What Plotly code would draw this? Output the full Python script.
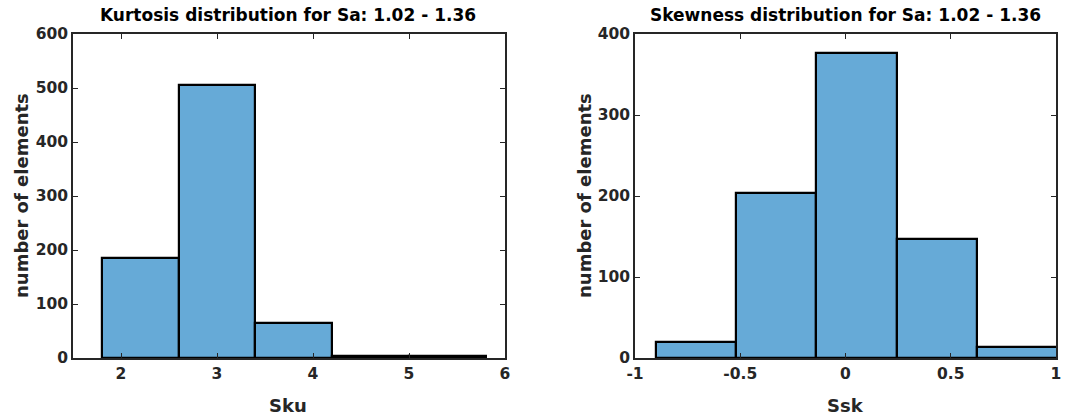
import plotly.graph_objects as go

# Kurtosis histogram
sku_edges = [1.8, 2.6, 3.4, 4.2, 5.0, 5.8]
sku_counts = [185, 505, 64, 3, 3]
# Skewness histogram
ssk_edges = [-0.902, -0.52, -0.138, 0.244, 0.626, 1.008]
ssk_counts = [20, 204, 377, 147, 13]

sku_ticks = [2, 3, 4, 5, 6]
sku_yticks = [0, 100, 200, 300, 400, 500, 600]
ssk_ticks = [-1, -0.5, 0, 0.5, 1]
ssk_tick_labels = ["-1", "-0.5", "0", "0.5", "1"]
ssk_yticks = [0, 100, 200, 300, 400]

BAR = "rgb(102,170,215)"
AX = "#262626"
FONT = "DejaVu Sans"

W, H = 1075, 420


def centers(e):
    return [(e[i] + e[i + 1]) / 2 for i in range(len(e) - 1)]


def widths(e):
    return [e[i + 1] - e[i] for i in range(len(e) - 1)]


fig = go.Figure()
fig.add_trace(go.Bar(x=centers(sku_edges), y=sku_counts, width=widths(sku_edges),
                     marker=dict(color=BAR, line=dict(color="black", width=2.2)),
                     xaxis="x", yaxis="y", showlegend=False))
fig.add_trace(go.Bar(x=centers(ssk_edges), y=ssk_counts, width=widths(ssk_edges),
                     marker=dict(color=BAR, line=dict(color="black", width=2.2)),
                     xaxis="x2", yaxis="y2", showlegend=False))

ydom = [(H - 358) / H, (H - 34) / H]
axcommon = dict(showline=True, mirror="allticks", linecolor=AX, linewidth=1.8,
                ticks="inside", ticklen=5, tickwidth=1.3, tickcolor=AX,
                showgrid=False, zeroline=False, automargin=False,
                tickfont=dict(family=FONT, size=15.5, color=AX, weight="bold"))
titlefont = dict(family=FONT, size=18, color=AX)

fig.update_layout(
    width=W, height=H,
    margin=dict(l=0, r=0, t=0, b=0),
    plot_bgcolor="white", paper_bgcolor="white",
    bargap=0,
    xaxis=dict(domain=[73 / W, 505 / W], range=[1.5, 6], tickvals=sku_ticks,
               anchor="y", **axcommon),
    yaxis=dict(domain=ydom, range=[0, 600], tickvals=sku_yticks, anchor="x",
               **axcommon),
    xaxis2=dict(domain=[635 / W, 1056 / W], range=[-1, 1], tickvals=ssk_ticks,
                ticktext=ssk_tick_labels, anchor="y2", **axcommon),
    yaxis2=dict(domain=ydom, range=[0, 400], tickvals=ssk_yticks, anchor="x2",
                **axcommon),
)

ann = []
tfont = dict(family=FONT, size=17, color="black")
ann.append(dict(text="<b>Kurtosis distribution for Sa: 1.02 - 1.36</b>", x=288 / W, y=1 - 15 / H,
                xref="paper", yref="paper", showarrow=False, font=tfont,
                xanchor="center", yanchor="middle"))
ann.append(dict(text="<b>Skewness distribution for Sa: 1.02 - 1.36</b>", x=845 / W, y=1 - 15 / H,
                xref="paper", yref="paper", showarrow=False, font=tfont,
                xanchor="center", yanchor="middle"))
ann.append(dict(text="<b>Sku</b>", x=288 / W, y=1 - 405 / H, xref="paper", yref="paper",
                showarrow=False, font=titlefont, xanchor="center", yanchor="middle"))
ann.append(dict(text="<b>Ssk</b>", x=845 / W, y=1 - 405 / H, xref="paper", yref="paper",
                showarrow=False, font=titlefont, xanchor="center", yanchor="middle"))
ann.append(dict(text="<b>number of elements</b>", x=21 / W, y=1 - 196 / H, xref="paper", yref="paper",
                showarrow=False, font=titlefont, textangle=-90, xanchor="center", yanchor="middle"))
ann.append(dict(text="<b>number of elements</b>", x=584 / W, y=1 - 196 / H, xref="paper", yref="paper",
                showarrow=False, font=titlefont, textangle=-90, xanchor="center", yanchor="middle"))
fig.update_layout(annotations=ann)

fig.write_html("out.html")
